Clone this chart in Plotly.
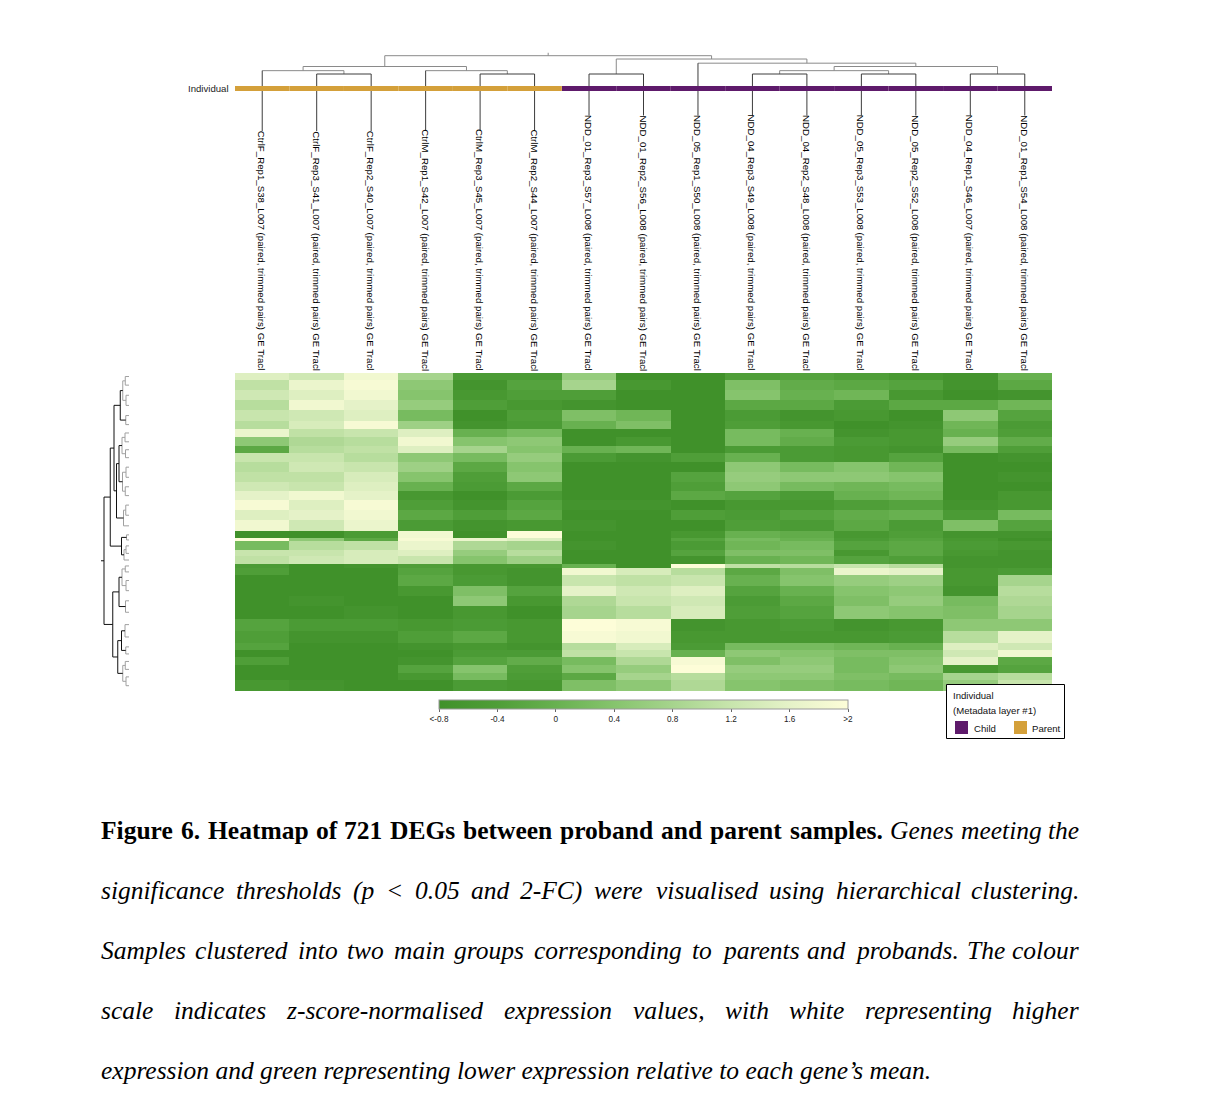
import numpy as np
import plotly.graph_objects as go

W, H = 1210, 1110

# ---- data -------------------------------------------------------------
samples = [
    "CtrlF_Rep1_S38_L007", "CtrlF_Rep3_S41_L007", "CtrlF_Rep2_S40_L007",
    "CtrlM_Rep1_S42_L007", "CtrlM_Rep3_S45_L007", "CtrlM_Rep2_S44_L007",
    "NDD_01_Rep3_S57_L008", "NDD_01_Rep2_S56_L008", "NDD_05_Rep1_S50_L008",
    "NDD_04_Rep3_S49_L008", "NDD_04_Rep2_S48_L008", "NDD_05_Rep3_S53_L008",
    "NDD_05_Rep2_S52_L008", "NDD_04_Rep1_S46_L007", "NDD_01_Rep1_S54_L008",
]
label_suffix = " (paired, trimmed pairs) GE Tracl"
individual = ["Parent"] * 6 + ["Child"] * 9
group_colors = {"Child": "#5e1a6b", "Parent": "#d4a03a"}

# column clustering, scipy style: (a, b, height), ids >= 15 are earlier merges
col_merges = [
    (1, 2, 10), (0, 15, 14), (4, 5, 10), (3, 17, 14), (16, 18, 19),
    (6, 7, 10), (9, 10, 10), (11, 12, 10), (21, 22, 14), (13, 14, 10),
    (23, 24, 19), (8, 25, 23), (20, 26, 28), (19, 27, 32),
]

# genes per horizontal band, top to bottom (721 DEGs)
block_genes = [16, 23, 23, 23, 23, 18, 20, 20, 16, 20, 23, 23, 20, 20, 23, 23, 25,
               16, 7, 20, 14, 16,
               11, 16, 23, 23, 23, 29, 27, 29, 16, 16, 18, 18, 16, 24]

# z-scores per band (15 samples each)
upper_rows = [
    [1.5, 1.3, 1.8, 0.8, -0.5, -0.5, 0.6, -0.8, -0.8, -0.4, -0.3, -0.4, -0.6, -0.7, 0.0],
    [1.1, 1.7, 1.9, 0.5, -0.7, -0.3, 0.8, -0.6, -0.8, 0.3, -0.1, -0.2, -0.3, -0.7, -0.2],
    [1.3, 1.5, 1.8, 0.4, -0.6, -0.4, -0.4, -0.8, -0.8, 0.4, 0.0, 0.1, -0.6, -0.8, -0.7],
    [1.0, 1.8, 1.6, 0.6, -0.4, -0.6, -0.7, -0.8, -0.8, -0.2, -0.2, -0.5, -0.2, -0.2, 0.1],
    [1.2, 1.3, 1.5, 0.2, -0.8, -0.4, 0.3, 0.1, -0.8, -0.5, -0.7, -0.6, -0.8, 0.5, -0.3],
    [1.0, 1.4, 1.9, 0.7, -0.7, -0.5, 0.0, 0.3, -0.8, -0.4, -0.6, -0.8, -0.7, 0.1, -0.5],
    [1.7, 1.1, 1.2, 1.5, 0.0, 0.2, -0.8, -0.8, -0.8, 0.2, 0.0, -0.7, -0.6, 0.0, -0.4],
    [0.5, 0.9, 1.0, 1.8, 0.4, 0.5, -0.8, -0.6, -0.8, 0.2, -0.1, -0.5, -0.6, 0.6, -0.1],
    [-0.2, 1.0, 1.1, 1.5, 0.8, 0.4, 0.0, 0.1, -0.8, -0.5, -0.5, -0.6, -0.7, 0.2, -0.4],
    [1.2, 1.2, 1.0, 0.5, 0.2, 0.6, -0.5, -0.7, -0.4, 0.0, -0.5, -0.6, -0.3, -0.8, -0.7],
    [1.0, 1.3, 1.2, 0.7, -0.2, 0.4, -0.8, -0.8, -0.8, 0.5, 0.2, 0.4, 0.1, -0.8, -0.8],
    [1.1, 1.1, 1.4, 0.4, -0.4, 0.5, -0.8, -0.8, -0.3, 0.6, 0.5, 0.5, 0.4, -0.8, -0.7],
    [1.3, 1.2, 1.5, 0.0, -0.5, -0.2, -0.8, -0.8, -0.4, 0.5, 0.2, 0.1, 0.2, -0.8, -0.8],
    [1.6, 1.8, 1.6, -0.6, -0.8, -0.5, -0.8, -0.8, -0.2, -0.3, -0.5, 0.0, 0.1, -0.8, -0.6],
    [1.9, 1.5, 1.9, -0.4, -0.7, -0.3, -0.7, -0.7, -0.8, -0.6, -0.6, -0.4, -0.3, -0.7, -0.6],
    [1.5, 1.6, 1.8, -0.2, -0.4, -0.2, -0.8, -0.8, -0.4, -0.5, -0.3, -0.1, 0.0, -0.5, 0.2],
    [1.8, 1.3, 1.7, -0.5, -0.7, -0.6, -0.7, -0.8, -0.8, -0.4, -0.5, -0.2, -0.5, 0.3, -0.3],
]
middle_rows = [
    [-0.8, -0.8, -0.5, 1.8, -0.8, 2.0, -0.8, -0.8, -0.6, 0.0, -0.1, -0.6, -0.4, -0.7, -0.7],
    [2.0, 0.5, -0.2, 1.9, 1.7, 1.5, -0.8, -0.8, -0.3, 0.2, 0.0, -0.5, -0.3, -0.6, -0.8],
    [0.2, 1.0, 1.1, 1.7, 0.9, 0.8, -0.7, -0.8, -0.5, 0.1, 0.2, -0.3, -0.2, -0.5, -0.6],
    [1.2, 1.2, 1.4, 1.5, 0.6, 1.0, -0.8, -0.8, -0.3, 0.3, 0.3, -0.6, -0.2, -0.6, -0.7],
    [1.1, 1.3, 1.4, 1.2, 0.4, 0.7, -0.8, -0.8, -0.7, 0.0, 0.1, -0.3, -0.4, -0.7, -0.7],
]
lower_rows = [
    [-0.5, -0.8, -0.7, -0.4, -0.6, -0.6, 0.0, -0.8, 2.0, 1.1, 1.0, 1.2, 1.0, -0.7, -0.7],
    [-0.4, -0.8, -0.8, -0.3, -0.6, -0.7, 1.8, 1.4, 1.0, -0.2, 0.3, 1.7, 1.6, -0.6, -0.5],
    [-0.8, -0.8, -0.8, -0.2, -0.5, -0.7, 1.2, 1.1, 1.2, 0.0, 0.4, 0.6, 0.7, -0.6, 0.8],
    [-0.8, -0.8, -0.8, -0.6, 0.3, -0.3, 1.6, 1.3, 1.5, -0.3, 0.0, 0.4, 0.5, -0.7, 1.0],
    [-0.8, -0.7, -0.8, -0.8, 0.5, -0.6, 0.9, 1.2, 1.3, -0.5, -0.2, 0.3, 0.6, 0.2, 0.9],
    [-0.8, -0.8, -0.7, -0.8, -0.6, -0.8, 0.8, 1.0, 1.4, -0.4, -0.3, 0.5, 0.4, 0.3, 0.8],
    [-0.3, -0.5, -0.5, -0.6, -0.5, -0.6, 2.0, 1.9, -0.7, -0.6, -0.5, -0.7, -0.6, 0.5, 0.5],
    [-0.4, -0.7, -0.7, -0.4, -0.2, -0.6, 1.9, 1.8, -0.6, -0.6, -0.6, -0.6, -0.5, 1.0, 1.6],
    [-0.3, -0.8, -0.8, -0.7, -0.6, -0.7, 1.0, 1.4, -0.5, 0.2, 0.2, 0.1, 0.0, 1.5, 1.3],
    [-0.8, -0.8, -0.8, -0.8, -0.5, -0.5, 1.1, 1.2, 0.0, 0.5, 0.4, 0.3, 0.3, 1.3, 1.8],
    [-0.4, -0.8, -0.8, -0.7, -0.3, -0.1, 0.2, 0.9, 1.9, 0.3, 0.5, 0.2, 0.4, 1.6, -0.2],
    [-0.8, -0.8, -0.8, -0.3, 0.4, -0.4, 0.4, 0.6, 2.0, 0.6, 0.6, 0.2, 0.5, -0.6, -0.3],
    [-0.8, -0.8, -0.8, -0.6, 0.2, -0.5, -0.2, 0.8, 1.0, 0.5, 0.5, 0.3, 0.2, 0.8, 1.0],
    [-0.6, -0.7, -0.8, -0.8, -0.5, -0.6, 0.3, 0.5, 0.9, 0.4, 0.3, 0.2, 0.1, 0.6, 1.2],
]

# gene clustering over the bands, ids >= 36 are earlier merges
row_merges = [
    (0, 1, 1.5), (2, 3, 1.2), (36, 37, 2.5), (4, 5, 1.3), (38, 39, 3.5),
    (6, 7, 1.6), (8, 9, 1.4), (41, 42, 2.8), (10, 11, 1.2), (12, 13, 1.5),
    (44, 45, 2.6), (43, 46, 4.0), (14, 15, 1.3), (48, 16, 2.2), (47, 49, 5.0),
    (40, 50, 6.0), (17, 18, 1.0), (19, 20, 1.2), (53, 21, 2.0), (52, 54, 3.0),
    (51, 55, 7.5), (22, 23, 1.5), (24, 25, 1.2), (57, 58, 2.8), (26, 27, 1.4),
    (59, 60, 4.0), (28, 29, 1.6), (30, 31, 1.3), (62, 63, 3.0), (32, 33, 1.5),
    (34, 35, 1.2), (65, 66, 2.5), (64, 67, 4.5), (61, 68, 6.5), (56, 69, 10.0),
]

scale_vals = [-0.8, -0.4, 0.0, 0.4, 0.8, 1.2, 1.6, 2.0]
scale_cols = ["#40912a", "#4f9e38", "#68b150", "#86c46d", "#a6d48d", "#c8e5ad", "#e5f2c8", "#fdfdd8"]
cbar_labels = ["<-0.8", "-0.4", "0", "0.4", "0.8", "1.2", "1.6", ">2"]

# caption lines: (row, [(word, x start or None = flush right, style)])
caption = [
    (830, [("Figure", 100, "b"), ("6.", 179.8, "b"), ("Heatmap", 206.5, "b"), ("of", 314.7, "b"),
           ("721", 343.5, "b"), ("DEGs", 389.4, "b"), ("between", 462.2, "b"),
           ("proband", 559, "b"), ("and", 660.1, "b"), ("parent", 708.8, "b"),
           ("samples.", 788.6, "b"), ("Genes", 889, "i"), ("meeting", 960.3, "i"),
           ("the", None, "i")]),
    (890, [("significance", 100, "i"), ("thresholds", 234.5, "i"), ("(p", 352, "i"),
           ("&lt;", 384.7, "i"), ("0.05", 413.5, "i"), ("and", 469.6, "i"), ("2-FC)", 519.4, "i"),
           ("were", 593, "i"), ("visualised", 654.7, "i"), ("using", 768, "i"),
           ("hierarchical", 834.6, "i"), ("clustering.", None, "i")]),
    (950, [("Samples", 100, "i"), ("clustered", 194.4, "i"), ("into", 297.3, "i"), ("two", 346.4, "i"),
           ("main", 392.6, "i"), ("groups", 453, "i"), ("corresponding", 533.2, "i"), ("to", 691.3, "i"),
           ("parents", 720.5, "i"), ("and", 806.4, "i"), ("probands.", 854, "i"), ("The", 966.1, "i"),
           ("colour", None, "i")]),
    (1010, [("scale", 100, "i"), ("indicates", 172.8, "i"), ("z-score-normalised", 285.3, "i"),
            ("expression", 502.6, "i"), ("values,", 632.1, "i"), ("with", 724, "i"),
            ("white", 788.3, "i"), ("representing", 864, "i"), ("higher", None, "i")]),
    (1070, [("expression and green representing lower expression relative to each gene’s mean.",
             100, "i")]),
]


# ---- helpers ----------------------------------------------------------
def fx(px):
    return px / W


def fy(px):
    return 1 - px / H


def top_h(px):      # pixel row -> column-dendrogram height units
    return (82.32 - px) / 0.832


def left_h(px):     # pixel column -> row-dendrogram height units
    return (129 - px) / 2.5


def tree_lines(merges, leaf_pos, leaf_base):
    pos, hgt = list(leaf_pos), list(leaf_base)
    n = len(leaf_pos)
    segs = []
    for a, b, h in merges:
        for c in (a, b):
            segs.append(((pos[c], pos[c]), (hgt[c], h), c < n, h))
        segs.append(((pos[a], pos[b]), (h, h), False, h))
        pos.append((pos[a] + pos[b]) / 2)
        hgt.append(h)
    return segs, pos[-1], hgt[-1]


def line_trace(segs, color, xaxis, yaxis, swap=False):
    xs, ys = [], []
    for p, h in segs:
        if swap:
            xs += [h[0], h[1], None]
            ys += [p[0], p[1], None]
        else:
            xs += [p[0], p[1], None]
            ys += [h[0], h[1], None]
    return go.Scatter(x=xs, y=ys, mode="lines", line=dict(color=color, width=1),
                      xaxis=xaxis, yaxis=yaxis, hoverinfo="skip")


fig = go.Figure()

# ---- heatmap ----------------------------------------------------------
zmin, zmax = scale_vals[0], scale_vals[-1]
colorscale = [[(v - zmin) / (zmax - zmin), c] for v, c in zip(scale_vals, scale_cols)]
edges = np.concatenate([[0], np.cumsum(block_genes)])
n_genes = int(edges[-1])
z = upper_rows + middle_rows + lower_rows

fig.add_trace(go.Heatmap(
    z=z, x=np.arange(len(samples)), y=edges, zmin=zmin, zmax=zmax,
    colorscale=colorscale, hoverinfo="skip",
    colorbar=dict(orientation="h", x=fx(643.5), xanchor="center", y=fy(700), yanchor="top",
                  len=409, lenmode="pixels", thickness=9, thicknessmode="pixels",
                  outlinecolor="#9a9a9a", outlinewidth=1, xpad=0, ypad=0,
                  tickvals=scale_vals, ticktext=cbar_labels, ticks="outside", ticklen=3,
                  tickcolor="#666", tickfont=dict(family="Liberation Sans", size=8.2, color="#222")),
))

# ---- column dendrogram --------------------------------------------------
label_top = [131 if s.startswith("Ctrl") else 115.5 for s in samples]
segs, root_x, root_h = tree_lines(col_merges, range(len(samples)), [top_h(p) for p in label_top])
dark = [(p, h) for p, h, leaf, mh in segs if leaf or mh <= 10]
light = [(p, h) for p, h, leaf, mh in segs if not (leaf or mh <= 10)]
light.append(((root_x, root_x), (root_h, root_h + 3.5)))
fig.add_trace(line_trace(light, "#8a8a8a", "x", "y2"))
fig.add_trace(line_trace(dark, "#3c3c3c", "x", "y2"))

# metadata bar (Individual)
for grp, col in group_colors.items():
    xs, ys = [], []
    for i, g in enumerate(individual):
        if g == grp:
            xs += [i - 0.5, i + 0.5, None]
            ys += [top_h(88.5)] * 2 + [None]
    fig.add_trace(go.Scatter(x=xs, y=ys, mode="lines", line=dict(color=col, width=5),
                             xaxis="x", yaxis="y2", hoverinfo="skip"))

# ---- row dendrogram -----------------------------------------------------
leaf_y = (edges[:-1] + edges[1:]) / 2
rsegs, root_y, rroot_h = tree_lines(row_merges, leaf_y, [0.0] * len(block_genes))
rdark = [(p, h) for p, h, leaf, mh in rsegs if mh >= 3]
rlight = [(p, h) for p, h, leaf, mh in rsegs if mh < 3]
rdark.append(((root_y, root_y), (rroot_h, rroot_h + 1.2)))
fig.add_trace(line_trace(rlight, "#a0a0a0", "x2", "y", swap=True))
fig.add_trace(line_trace(rdark, "#111111", "x2", "y", swap=True))

# ---- text ----------------------------------------------------------------
sans = "Liberation Sans"
ann = []
for i, s in enumerate(samples):
    ann.append(dict(x=i, xref="x", y=fy(373), yref="paper", text=s + label_suffix,
                    textangle=90, showarrow=False, xanchor="center", yanchor="bottom",
                    font=dict(family=sans, size=9.7, color="#000")))
ann.append(dict(x=fx(230), y=fy(88.5), text="Individual", xanchor="right", yanchor="middle",
                borderpad=0, font=dict(family=sans, size=9.6, color="#222")))

# legend box
shapes = [dict(type="rect", xref="paper", yref="paper", x0=fx(946.5), x1=fx(1064.5),
               y0=fy(738.5), y1=fy(684.5), line=dict(color="black", width=1), fillcolor="white")]
for (grp, x0, tx) in [("Child", 955, 972.5), ("Parent", 1014, 1031)]:
    shapes.append(dict(type="rect", xref="paper", yref="paper", x0=fx(x0), x1=fx(x0 + 13),
                       y0=fy(734), y1=fy(721), line=dict(width=0), fillcolor=group_colors[grp]))
    ann.append(dict(x=fx(tx), y=fy(728), text=grp, xanchor="left", yanchor="middle", borderpad=0,
                    font=dict(family=sans, size=9.6, color="#111")))
ann.append(dict(x=fx(951.5), y=fy(695.5), text="Individual", xanchor="left", yanchor="middle",
                borderpad=0, font=dict(family=sans, size=9.6, color="#111")))
ann.append(dict(x=fx(951.5), y=fy(710.5), text="(Metadata layer #1)", xanchor="left",
                yanchor="middle", borderpad=0, font=dict(family=sans, size=9.6, color="#111")))

# caption, justified word by word
for y, words in caption:
    for w, x, style in words:
        ann.append(dict(x=fx(1080 if x is None else x), y=fy(y),
                        text="<%s>%s</%s>" % (style, w, style),
                        xanchor="right" if x is None else "left", yanchor="middle", borderpad=0,
                        font=dict(family="Liberation Serif", size=25.5, color="black")))
for a in ann:
    a.setdefault("showarrow", False)
    a.setdefault("xref", "paper")
    a.setdefault("yref", "paper")

fig.update_layout(
    width=W, height=H, margin=dict(l=0, r=0, t=0, b=0),
    paper_bgcolor="white", plot_bgcolor="white", showlegend=False,
    xaxis=dict(domain=[fx(235), fx(1052)], range=[-0.5, len(samples) - 0.5], visible=False, anchor="y"),
    yaxis=dict(domain=[fy(691), fy(373)], range=[n_genes, 0], visible=False, anchor="x"),
    yaxis2=dict(domain=[fy(132), fy(45)], range=[top_h(132), top_h(45)], visible=False, anchor="x"),
    xaxis2=dict(domain=[fx(98), fx(131)], range=[left_h(98), left_h(131)], visible=False, anchor="y"),
    annotations=ann, shapes=shapes,
)

fig.write_html("out.html", config={"displayModeBar": False},
               post_script="document.body.style.margin='0';")
